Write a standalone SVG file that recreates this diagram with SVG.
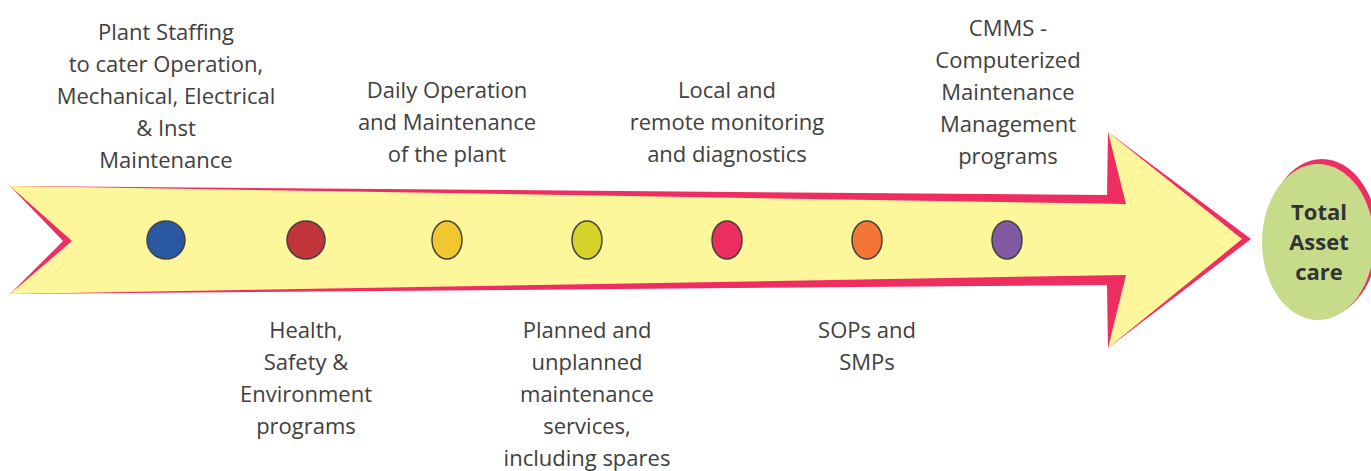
<svg xmlns="http://www.w3.org/2000/svg" width="1371" height="471" viewBox="0 0 1371 471">
<style>
.lbl{font-family:"Open Sans","Noto Sans",sans-serif;font-size:22px;fill:#404040;text-anchor:middle}
.bold{font-family:"Open Sans","Noto Sans",sans-serif;font-size:22px;font-weight:bold;fill:#333333;text-anchor:middle}
.dot{stroke:#404040;stroke-width:1.5}
</style>
<rect width="1371" height="471" fill="#ffffff"/>
<g id="arrow">
<path d="M10,186 L1107,195 L1108,132 L1251,239 L1108,348 L1107,285 L10,294 L63,241 Z" fill="#EE2D62"/>
<path d="M10,186 L1126,204 L1108,132 L1242,239 L1108,348 L1126,275 L10,294 L72,241 Z" fill="#FEF69B"/>
</g>
<g id="goal">
<ellipse cx="1322" cy="238" rx="56" ry="79" fill="#EE2D62"/>
<ellipse cx="1318" cy="242" rx="56" ry="78" fill="#C7DC8B"/>
<text class="bold" x="1319" y="220">Total</text>
<text class="bold" x="1319" y="250">Asset</text>
<text class="bold" x="1319" y="280">care</text>
</g>
<g id="n1">
<circle class="dot" cx="166" cy="240" r="19" fill="#2A58A2"/>
<text class="lbl" x="166" y="40">Plant Staffing</text>
<text class="lbl" x="166" y="72">to cater Operation,</text>
<text class="lbl" x="166" y="104">Mechanical, Electrical</text>
<text class="lbl" x="166" y="136">&amp; Inst</text>
<text class="lbl" x="166" y="168">Maintenance</text>
</g>
<g id="n2">
<circle class="dot" cx="306" cy="240" r="19" fill="#C0343A"/>
<text class="lbl" x="306" y="338">Health,</text>
<text class="lbl" x="306" y="370">Safety &amp;</text>
<text class="lbl" x="306" y="402">Environment</text>
<text class="lbl" x="306" y="434">programs</text>
</g>
<g id="n3">
<ellipse class="dot" cx="447" cy="240" rx="15" ry="19" fill="#F2C62F"/>
<text class="lbl" x="447" y="98">Daily Operation</text>
<text class="lbl" x="447" y="130">and Maintenance</text>
<text class="lbl" x="447" y="162">of the plant</text>
</g>
<g id="n4">
<ellipse class="dot" cx="587" cy="240" rx="15" ry="19" fill="#D5D22A"/>
<text class="lbl" x="587" y="338">Planned and</text>
<text class="lbl" x="587" y="370">unplanned</text>
<text class="lbl" x="587" y="402">maintenance</text>
<text class="lbl" x="587" y="434">services,</text>
<text class="lbl" x="587" y="466">including spares</text>
</g>
<g id="n5">
<ellipse class="dot" cx="727" cy="240" rx="15" ry="19" fill="#EC2D5F"/>
<text class="lbl" x="727" y="98">Local and</text>
<text class="lbl" x="727" y="130">remote monitoring</text>
<text class="lbl" x="727" y="162">and diagnostics</text>
</g>
<g id="n6">
<ellipse class="dot" cx="867" cy="240" rx="15" ry="19" fill="#F47637"/>
<text class="lbl" x="867" y="338">SOPs and</text>
<text class="lbl" x="867" y="370">SMPs</text>
</g>
<g id="n7">
<ellipse class="dot" cx="1007" cy="240" rx="15" ry="19" fill="#7F5AA0"/>
<text class="lbl" x="1008" y="36">CMMS -</text>
<text class="lbl" x="1008" y="68">Computerized</text>
<text class="lbl" x="1008" y="100">Maintenance</text>
<text class="lbl" x="1008" y="132">Management</text>
<text class="lbl" x="1008" y="164">programs</text>
</g>
<g id="connectors"></g>
</svg>
